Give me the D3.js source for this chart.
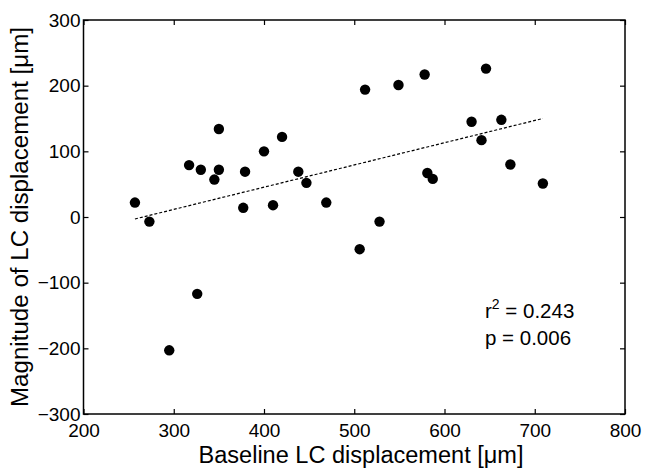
<!DOCTYPE html>
<html>
<head>
<meta charset="utf-8">
<script src="https://cdn.jsdelivr.net/npm/d3@7"></script>
<style>
  body { margin: 0; background: #fff; }
  svg { font-family: "Liberation Sans", Arial, sans-serif; }
</style>
</head>
<body>
<script>
// baseline LC displacement (x) vs magnitude of LC displacement (y)
const baseline = [257, 273, 295, 317, 326, 330, 345, 350, 350, 377, 379, 400, 410, 420, 438,
                  447, 469, 506, 512, 528, 549, 578, 581, 587, 630, 641, 646, 663, 673, 709];
const magnitude = [22, -7, -203, 79, -117, 72, 57, 134, 72, 14, 69, 100, 18, 122, 69,
                   52, 22, -49, 194, -7, 201, 217, 67, 58, 145, 117, 226, 148, 80, 51];
const fitX = [257, 709];
const fitY = [-3, 150];
const xTicks = [200, 300, 400, 500, 600, 700, 800];
const yTicks = [-300, -200, -100, 0, 100, 200, 300];
const stats = ['0.243', '0.006'];

const W = 646, H = 471;
const margin = { top: 20, right: 21, bottom: 57, left: 83.5 };
const width = W - margin.left - margin.right;
const height = H - margin.top - margin.bottom;

const svg = d3.select('body').append('svg')
  .attr('width', W)
  .attr('height', H);

const g = svg.append('g')
  .attr('transform', `translate(${margin.left},${margin.top})`);

const x = d3.scaleLinear().domain([200, 800]).range([0, width]);
const y = d3.scaleLinear().domain([-300, 300]).range([height, 0]);

// box frame
g.append('rect')
  .attr('width', width)
  .attr('height', height)
  .attr('fill', 'none')
  .attr('stroke', '#000')
  .attr('stroke-width', 1.5);

function styleAxis(sel, showText) {
  sel.select('.domain').remove();
  sel.selectAll('line').attr('stroke', '#000').attr('stroke-width', 1.2);
  sel.selectAll('text')
    .attr('fill', '#000')
    .style('font-size', '19px')
    .style('display', showText ? null : 'none');
}

g.append('g')
  .attr('transform', `translate(0,${height})`)
  .call(d3.axisBottom(x).tickValues(xTicks).tickSizeInner(-5).tickSizeOuter(0).tickPadding(9.5))
  .call(s => styleAxis(s, true));

g.append('g')
  .call(d3.axisTop(x).tickValues(xTicks).tickSizeInner(-5).tickSizeOuter(0))
  .call(s => styleAxis(s, false));

g.append('g')
  .call(d3.axisLeft(y).tickValues(yTicks).tickSizeInner(-5).tickSizeOuter(0).tickPadding(3))
  .call(s => styleAxis(s, true));

g.append('g')
  .attr('transform', `translate(${width},0)`)
  .call(d3.axisRight(y).tickValues(yTicks).tickSizeInner(-5).tickSizeOuter(0))
  .call(s => styleAxis(s, false));

// regression line
g.append('line')
  .attr('x1', x(fitX[0])).attr('y1', y(fitY[0]))
  .attr('x2', x(fitX[1])).attr('y2', y(fitY[1]))
  .attr('stroke', '#000')
  .attr('stroke-width', 1.2)
  .attr('stroke-dasharray', '3,2');

// points
g.selectAll('circle')
  .data(baseline.map((d, i) => [d, magnitude[i]]))
  .enter().append('circle')
  .attr('cx', d => x(d[0]))
  .attr('cy', d => y(d[1]))
  .attr('r', 5.2)
  .attr('fill', '#000');

// stats text
const r2 = svg.append('text')
  .attr('x', 485)
  .attr('y', 318)
  .style('font-size', '20.5px');
r2.append('tspan').text('r');
r2.append('tspan').attr('dy', -9).style('font-size', '14px').text('2');
r2.append('tspan').attr('dy', 9).text(' = ' + stats[0]);

svg.append('text')
  .attr('x', 485)
  .attr('y', 345)
  .style('font-size', '20.5px')
  .text('p = ' + stats[1]);

// axis labels
svg.append('text')
  .attr('x', 361)
  .attr('y', 463)
  .attr('text-anchor', 'middle')
  .attr('textLength', 325)
  .attr('lengthAdjust', 'spacingAndGlyphs')
  .style('font-size', '23px')
  .text('Baseline LC displacement [\u03bcm]');

svg.append('text')
  .attr('transform', `translate(28,217) rotate(-90)`)
  .attr('text-anchor', 'middle')
  .attr('textLength', 380)
  .attr('lengthAdjust', 'spacingAndGlyphs')
  .style('font-size', '23px')
  .text('Magnitude of LC displacement [\u03bcm]');
</script>
</body>
</html>
